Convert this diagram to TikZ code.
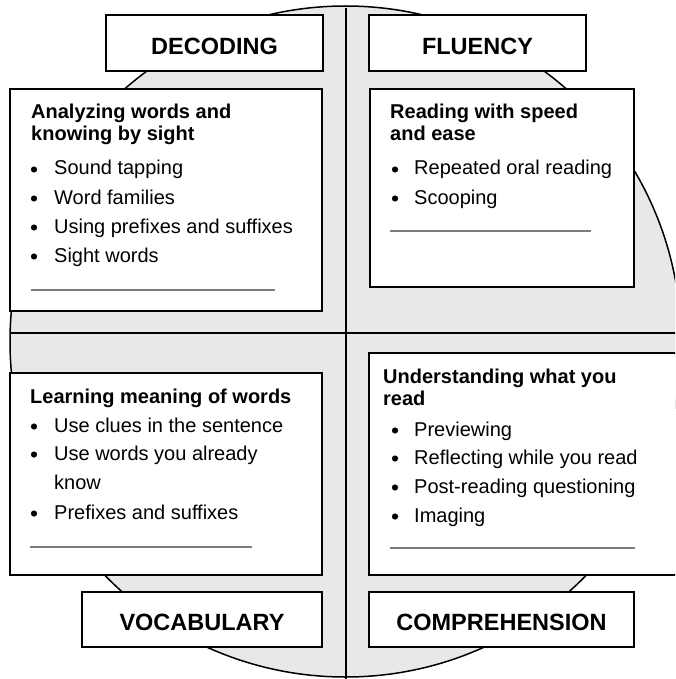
\documentclass[tikz,border=0pt]{standalone}
\usepackage{fontspec}
\setmainfont{Liberation Sans}
\definecolor{circfill}{RGB}{232,232,232}
\definecolor{ulgray}{RGB}{125,125,125}
\tikzset{
  panel/.style={draw=black, line width=2pt, fill=white},
  titletxt/.style={anchor=base, inner sep=0pt, font=\fontsize{23.5}{26}\selectfont\bfseries},
  headtxt/.style={anchor=base west, inner sep=0pt, font=\fontsize{20}{22}\selectfont\bfseries},
  itemtxt/.style={anchor=base west, inner sep=0pt, font=\fontsize{20}{22}\selectfont},
  bul/.style={circle, fill=black, inner sep=0pt, minimum size=6.2pt, yshift=5.5pt},
  blank/.style={draw=ulgray, line width=1.3pt},
  cross/.style={draw=black, line width=2pt},
}
\begin{document}
\begin{tikzpicture}[x=1pt, y=-1pt]
\useasboundingbox (0,0) rectangle (675,679);
\clip (0,0) rectangle (675,679);
% background circle
\node[circle, draw=black, line width=1.5pt, fill=circfill, minimum size=671pt, inner sep=0pt] (circ) at (345.5,341.5) {};
% cross lines
\coordinate (vt) at (346,8);
\coordinate (vb) at (346,679);
\coordinate (hl) at (10,333);
\coordinate (hr) at (676,333);
\draw[cross] (vt) -- (vb);
\draw[cross] (hl) -- (hr);
% title boxes
\draw[panel] (106,15) rectangle (323,71);
\node[titletxt] (tdec) at (214.5,54.5) {DECODING};
\draw[panel] (369,15) rectangle (586,71);
\node[titletxt] (tflu) at (477.5,54.5) {FLUENCY};
\draw[panel] (82,592) rectangle (322,647);
\node[titletxt] (tvoc) at (202,630.5) {VOCABULARY};
\draw[panel] (369,592) rectangle (634,647);
\node[titletxt] (tcom) at (501.5,630.5) {COMPREHENSION};
% content boxes
\draw[panel] (10,89) rectangle (322,311);
\draw[panel] (370,89) rectangle (634,287);
\draw[panel] (10,373) rectangle (322,575);
\draw[panel] (369,353) rectangle (677,575);
% Decoding content
\node[headtxt] (dh1) at (31,119) {Analyzing words and};
\node[headtxt] (dh2) at (31,141) {knowing by sight};
\node[bul] (db1) at (34,175) {};
\node[itemtxt] (di1) at (54,175) {Sound tapping};
\node[bul] (db2) at (34,204) {};
\node[itemtxt] (di2) at (54,204) {Word families};
\node[bul] (db3) at (34,233) {};
\node[itemtxt] (di3) at (54,233) {Using prefixes and suffixes};
\node[bul] (db4) at (34,262) {};
\node[itemtxt] (di4) at (54,262) {Sight words};
\draw[blank] (31,290) -- (275,290);
% Fluency content
\node[headtxt] (fh1) at (390,119) {Reading with speed};
\node[headtxt] (fh2) at (390,141) {and ease};
\node[bul] (fb1) at (395,175) {};
\node[itemtxt] (fi1) at (414,175) {Repeated oral reading};
\node[bul] (fb2) at (395,204) {};
\node[itemtxt] (fi2) at (414,204) {Scooping};
\draw[blank] (390,231) -- (591,231);
% Vocabulary content
\node[headtxt] (vh1) at (30,403) {Learning meaning of words};
\node[bul] (vb1) at (34,432) {};
\node[itemtxt] (vi1) at (54,432) {Use clues in the sentence};
\node[bul] (vb2) at (34,460) {};
\node[itemtxt] (vi2) at (54,460) {Use words you already};
\node[itemtxt] (vi2b) at (54,489) {know};
\node[bul] (vb3) at (34,519) {};
\node[itemtxt] (vi3) at (54,519) {Prefixes and suffixes};
\draw[blank] (30,547) -- (252,547);
% Comprehension content
\node[headtxt] (ch1) at (383,383) {Understanding what you};
\node[headtxt] (ch2) at (383,405) {read};
\node[bul] (cb1) at (395,436) {};
\node[itemtxt] (ci1) at (414,436) {Previewing};
\node[bul] (cb2) at (395,464) {};
\node[itemtxt] (ci2) at (414,464) {Reflecting while you read};
\node[bul] (cb3) at (395,493) {};
\node[itemtxt] (ci3) at (414,493) {Post-reading questioning};
\node[bul] (cb4) at (395,522) {};
\node[itemtxt] (ci4) at (414,522) {Imaging};
\draw[blank] (390,548) -- (635,548);
\end{tikzpicture}
\end{document}
